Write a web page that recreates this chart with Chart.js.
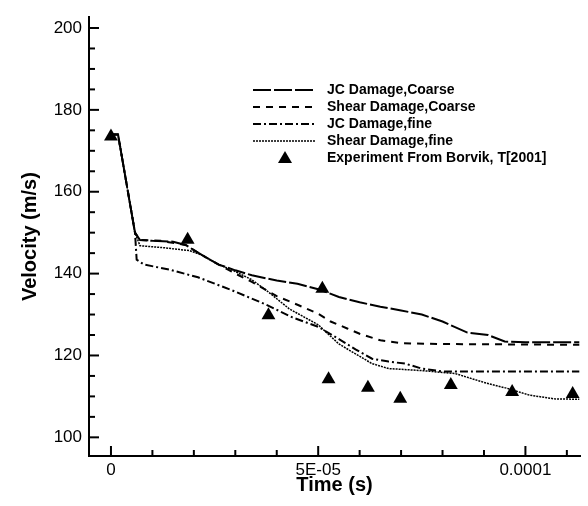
<!DOCTYPE html>
<html>
<head>
<meta charset="utf-8">
<script src="https://cdn.jsdelivr.net/npm/chart.js@4.4.0/dist/chart.umd.min.js"></script>
<style>
  html, body { margin: 0; padding: 0; background: #fff; }
</style>
</head>
<body>
<canvas id="velocidade" width="588" height="506"></canvas>
<script>
// tempos em microssegundos, velocidades em m/s
var tempo_jc_coarse = [0, 1.7, 5.8, 7, 10, 15, 18, 22, 26, 30, 34, 40, 45, 50, 55, 60, 65, 70, 75, 80, 86, 91, 95, 100, 113];
var vel_jc_coarse = [174, 174, 150, 148.2, 148, 147.8, 147, 144.5, 142.2, 140.8, 139.6, 138.3, 137.5, 136.2, 134.3, 133, 131.9, 131, 130, 128.3, 125.6, 125, 123.4, 123.2, 123.2];

var tempo_shear_coarse = [0, 1.7, 5.8, 7, 12, 18, 22, 26, 30, 34, 40, 45, 50, 53, 57, 60, 65, 70, 80, 113];
var vel_shear_coarse = [174, 174, 150, 148.2, 148, 147, 144.5, 142.2, 140, 138, 134.5, 132.4, 130.2, 128.3, 126.6, 125.3, 123.7, 123, 122.8, 122.6];

var tempo_jc_fine = [0, 1.7, 5.8, 6.2, 8, 14, 21, 29, 37.5, 43.8, 50, 55, 59, 63, 67, 71, 75, 80, 113];
var vel_jc_fine = [174, 174, 150, 143.4, 142.2, 141, 139.1, 136, 132.4, 129.3, 127, 124, 121.5, 119.2, 118.5, 118, 116.8, 116.1, 116.1];

var tempo_shear_fine = [0, 1.7, 5.8, 7, 13, 19, 22, 26, 29, 34, 38, 43, 50, 55, 59, 63, 67, 75, 83, 90.7, 95.5, 101, 107, 113];
var vel_shear_fine = [174, 174, 150, 146.8, 146.3, 145.6, 144.5, 142.2, 141, 138.5, 135.5, 131.4, 127.5, 122.8, 120.4, 118, 116.8, 116.3, 115.6, 113.2, 112, 110.3, 109.4, 109.3];

var tempo_experimento = [0, 18.5, 38, 51, 52.5, 62, 69.8, 82, 96.8, 111.4];
var vel_experimento = [173.5, 148.3, 129.8, 136.3, 114.2, 112.1, 109.4, 112.8, 111.1, 110.6];

var tiques_x = [0, 5e-5, 1e-4];
var rotulos_x = ["0", "5E-05", "0.0001"];
var tiques_y = [100, 120, 140, 160, 180, 200];

var fonte = '"Liberation Sans", Arial, sans-serif';

function pontos(tempos, vels) {
  var lista = [];
  for (var i = 0; i < tempos.length; i++) {
    lista.push({ x: tempos[i] * 1e-6, y: vels[i] });
  }
  return lista;
}

function linha(nome, tempos, vels, tracejado, largura) {
  return {
    label: nome,
    data: pontos(tempos, vels),
    showLine: true,
    borderColor: "#000",
    borderWidth: largura,
    borderDash: tracejado,
    pointRadius: 0,
    tension: 0,
    fill: false,
  };
}

var tiques = {
  id: "tiques",
  afterDraw: function (chart) {
    var ctx = chart.ctx;
    var area = chart.chartArea;
    ctx.save();
    ctx.strokeStyle = "#000";
    ctx.lineWidth = 2;
    var sx = chart.scales.x;
    sx.ticks.forEach(function (t) {
      var px = sx.getPixelForValue(t.value);
      var tam = t.label !== "" ? 10 : 6;
      ctx.beginPath();
      ctx.moveTo(px, area.bottom);
      ctx.lineTo(px, area.bottom - tam);
      ctx.stroke();
    });
    var sy = chart.scales.y;
    sy.ticks.forEach(function (t) {
      var py = sy.getPixelForValue(t.value);
      var tam = t.label !== "" ? 10 : 6;
      ctx.beginPath();
      ctx.moveTo(area.left, py);
      ctx.lineTo(area.left + tam, py);
      ctx.stroke();
    });
    ctx.restore();
  },
};

var legenda = {
  id: "legenda",
  afterDraw: function (chart) {
    var ctx = chart.ctx;
    ctx.save();
    ctx.font = "bold 14px " + fonte;
    ctx.textBaseline = "middle";
    chart.data.datasets.forEach(function (ds, i) {
      var y = 90 + i * 17;
      if (ds.showLine) {
        ctx.setLineDash(ds.borderDash);
        ctx.lineWidth = ds.borderWidth;
        ctx.strokeStyle = ds.borderColor;
        ctx.beginPath();
        ctx.moveTo(253, y);
        ctx.lineTo(316, y);
        ctx.stroke();
        ctx.setLineDash([]);
      } else {
        ctx.fillStyle = "#000";
        ctx.beginPath();
        ctx.moveTo(285, y - 7);
        ctx.lineTo(292, y + 5);
        ctx.lineTo(278, y + 5);
        ctx.closePath();
        ctx.fill();
      }
      ctx.fillStyle = "#000";
      ctx.fillText(ds.label, 327, y);
    });
    ctx.restore();
  },
};

var ctx = document.getElementById("velocidade");
var grafico = new Chart(ctx, {
  type: "scatter",
  data: {
    datasets: [
      linha("JC Damage,Coarse", tempo_jc_coarse, vel_jc_coarse, [18, 3], 2),
      linha("Shear Damage,Coarse", tempo_shear_coarse, vel_shear_coarse, [7, 6], 2),
      linha("JC Damage,fine", tempo_jc_fine, vel_jc_fine, [8, 3, 2, 3], 2),
      linha("Shear Damage,fine", tempo_shear_fine, vel_shear_fine, [2, 1], 1.5),
      {
        label: "Experiment From Borvik, T[2001]",
        data: pontos(tempo_experimento, vel_experimento),
        showLine: false,
        pointStyle: "triangle",
        pointRadius: 8,
        pointHoverRadius: 8,
        backgroundColor: "#000",
        borderColor: "#000",
        borderWidth: 0,
      },
    ],
  },
  options: {
    responsive: false,
    animation: false,
    devicePixelRatio: 1,
    layout: { padding: { top: 10, right: 7, left: 0, bottom: 0 } },
    plugins: {
      legend: { display: false },
      tooltip: { enabled: false },
    },
    scales: {
      x: {
        type: "linear",
        min: -5.3e-6,
        max: 1.1317e-4,
        grid: { display: false, drawTicks: false },
        border: { display: true, color: "#000", width: 2 },
        ticks: {
          stepSize: 1e-5,
          includeBounds: false,
          autoSkip: false,
          maxRotation: 0,
          padding: 4,
          color: "#000",
          font: { family: fonte, size: 17 },
          callback: function (valor) {
            for (var i = 0; i < tiques_x.length; i++) {
              if (Math.abs(valor - tiques_x[i]) < 1e-12) return rotulos_x[i];
            }
            return "";
          },
        },
        title: {
          display: true,
          text: "Time (s)",
          color: "#000",
          font: { family: fonte, size: 20, weight: "bold" },
          padding: { top: 0, bottom: 9 },
        },
        afterFit: function (escala) {
          escala.height = 50;
        },
      },
      y: {
        type: "linear",
        min: 95.44,
        max: 202.64,
        grid: { display: false, drawTicks: false },
        border: { display: true, color: "#000", width: 2 },
        ticks: {
          stepSize: 5,
          includeBounds: false,
          autoSkip: false,
          padding: 7,
          color: "#000",
          font: { family: fonte, size: 17 },
          callback: function (valor) {
            return tiques_y.indexOf(Math.round(valor)) >= 0 && Math.abs(valor - Math.round(valor)) < 1e-9 ? String(Math.round(valor)) : "";
          },
        },
        title: {
          display: true,
          text: "Velocity (m/s)",
          color: "#000",
          font: { family: fonte, size: 20, weight: "bold" },
          padding: { top: 18, bottom: 0 },
        },
        afterFit: function (escala) {
          escala.width = 89;
        },
      },
    },
  },
  plugins: [tiques, legenda],
});
</script>
</body>
</html>
